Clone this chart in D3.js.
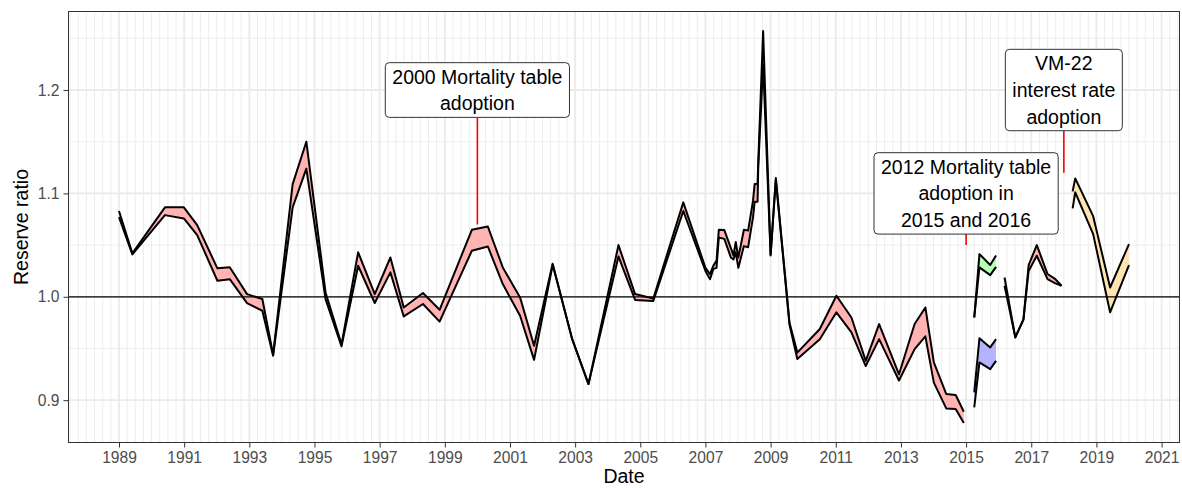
<!DOCTYPE html>
<html><head><meta charset="utf-8">
<script src="https://cdn.jsdelivr.net/npm/d3@7"></script>
<style>
body{margin:0;background:#fff}
svg{display:block}
text{font-family:"Liberation Sans",Arial,Helvetica,sans-serif}
</style>
</head><body>
<svg id="chart" width="1182" height="488"></svg>
<script>
// ---------- data (decimal year, lower bound, upper bound) ----------
const pink1Dates = [1989.00,1989.41,1990.41,1990.99,1991.40,1992.02,1992.40,1992.93,1993.40,1993.73,
  1994.33,1994.75,1995.34,1995.83,1996.34,1996.85,1997.33,1997.74,1998.33,1998.84,
  1999.83,2000.32,2000.78,2001.31,2001.74,2002.31,2002.91,2003.41,2004.33,2004.84,
  2005.40,2006.32,2007.00,2007.14,2007.24,2007.34,2007.41,2007.58,2007.78,2007.86,
  2007.93,2008.01,2008.18,2008.31,2008.46,2008.51,2008.60,2008.62,2008.77,2009.00,
  2009.16,2009.58,2009.82,2010.51,2011.02,2011.48,2011.92,2012.33,2012.94,2013.42,
  2013.75,2014.01,2014.39,2014.68,2014.93];
const pink1Low = [1.077,1.041,1.079,1.0758,1.0597,1.0155,1.017,0.9939,0.9865,0.943,
  1.0865,1.124,0.9978,0.952,1.030,0.994,1.0236,0.981,0.993,0.976,
  1.0445,1.0487,1.0123,0.9816,0.939,1.031,0.959,0.9156,1.039,0.997,
  0.996,1.083,1.025,1.017,1.0268,1.028,1.0574,1.056,1.038,1.036,
  1.043,1.028,1.049,1.048,1.0768,1.092,1.092,1.125,1.225,1.040,
  1.113,0.973,0.9398,0.959,0.985,0.9656,0.933,0.959,0.919,0.9494,
  0.9617,0.917,0.892,0.8914,0.878];
const pink1High = [1.083,1.042,1.0865,1.0865,1.0693,1.0275,1.0285,1.0026,0.9978,0.944,
  1.109,1.150,1.0042,0.954,1.043,1.0026,1.038,0.9897,1.0036,0.9874,
  1.0648,1.068,1.0284,0.9994,0.9526,1.032,0.959,0.9156,1.050,1.0026,
  0.9984,1.0913,1.028,1.022,1.030,1.035,1.0648,1.0645,1.047,1.040,
  1.053,1.038,1.0648,1.064,1.093,1.109,1.109,1.130,1.257,1.041,
  1.115,0.975,0.946,0.9688,1.001,0.980,0.938,0.9736,0.925,0.9736,
  0.9897,0.9365,0.906,0.905,0.8888];

const greenDates = [2015.25,2015.41,2015.74,2015.92];
const greenLow   = [0.980,1.0284,1.021,1.029];
const greenHigh  = [0.980,1.0413,1.0307,1.040];

const blueDates = [2015.25,2015.41,2015.74,2015.92];
const blueLow   = [0.893,0.9365,0.930,0.938];
const blueHigh  = [0.9075,0.960,0.951,0.959];

const pink2Dates = [2016.18,2016.51,2016.76,2016.92,2017.17,2017.50,2017.74,2017.93];
const pink2Low   = [1.0107,0.9607,0.978,1.025,1.0397,1.017,1.013,1.0107];
const pink2High  = [1.0187,0.9607,0.978,1.0307,1.050,1.022,1.017,1.0107];

const orangeDates = [2018.27,2018.35,2018.90,2019.42,2020.00];
const orangeLow   = [1.0855,1.101,1.0606,0.985,1.0307];
const orangeHigh  = [1.102,1.1145,1.078,1.009,1.051];

const xTicks = [1989,1991,1993,1995,1997,1999,2001,2003,2005,2007,2009,2011,2013,2015,2017,2019,2021];
const yTicks = [0.9,1.0,1.1,1.2];
const yMinor = [0.85,0.95,1.05,1.15,1.25];

const labelTexts  = [["2000 Mortality table","adoption"],
                     ["2012 Mortality table","adoption in","2015 and 2016"],
                     ["VM-22","interest rate","adoption"]];
const labelYears  = [2000, 2015, 2018];
const labelValues = [1.20, 1.10, 1.20];
const pointValues = [1.07, 1.05, 1.12];

// ---------- chart ----------
const svg = d3.select("#chart");
const P = {left:68.5, right:1179.5, top:11.5, bottom:442.5};

const series = [
  {d:pink1Dates, lo:pink1Low, hi:pink1High, fill:"#FFB3B3"},
  {d:greenDates, lo:greenLow, hi:greenHigh, fill:"#B3FFB3"},
  {d:blueDates, lo:blueLow, hi:blueHigh, fill:"#B3B3FF"},
  {d:pink2Dates, lo:pink2Low, hi:pink2High, fill:"#FFB3B3"},
  {d:orangeDates, lo:orangeLow, hi:orangeHigh, fill:"#FFE4B3"}
];

const allD = series.flatMap(s => s.d);
const allV = series.flatMap(s => s.lo.concat(s.hi));
const xe = d3.extent(allD), ye = d3.extent(allV);
const xp = (xe[1]-xe[0])*0.05, yp = (ye[1]-ye[0])*0.05;
const x = d3.scaleLinear().domain([xe[0]-xp, xe[1]+xp]).range([P.left, P.right]);
const y = d3.scaleLinear().domain([ye[0]-yp, ye[1]+yp]).range([P.bottom, P.top]);

// background
svg.append("rect").attr("x",P.left).attr("y",P.top)
  .attr("width",P.right-P.left).attr("height",P.bottom-P.top).attr("fill","#fff");

// grid
const g = svg.append("g");
const xMinor = d3.range(Math.ceil((x.domain()[0])*4)/4, x.domain()[1], 0.25)
  .filter(v => !xTicks.includes(v));
g.selectAll(".xm").data(xMinor).enter().append("line")
  .attr("x1",d=>x(d)).attr("x2",d=>x(d)).attr("y1",P.top).attr("y2",P.bottom)
  .attr("stroke","#EBEBEB").attr("stroke-width",0.9);
g.selectAll(".ym").data(yMinor.filter(v=>v>y.domain()[0]&&v<y.domain()[1])).enter().append("line")
  .attr("x1",P.left).attr("x2",P.right).attr("y1",d=>y(d)).attr("y2",d=>y(d))
  .attr("stroke","#EBEBEB").attr("stroke-width",0.9);
g.selectAll(".xM").data(xTicks).enter().append("line")
  .attr("x1",d=>x(d)).attr("x2",d=>x(d)).attr("y1",P.top).attr("y2",P.bottom)
  .attr("stroke","#EBEBEB").attr("stroke-width",1.8);
g.selectAll(".yM").data(yTicks).enter().append("line")
  .attr("x1",P.left).attr("x2",P.right).attr("y1",d=>y(d)).attr("y2",d=>y(d))
  .attr("stroke","#EBEBEB").attr("stroke-width",1.8);

// ribbons
const clip = svg.append("clipPath").attr("id","clp").append("rect")
  .attr("x",P.left).attr("y",P.top).attr("width",P.right-P.left).attr("height",P.bottom-P.top);
const rg = svg.append("g").attr("clip-path","url(#clp)");
series.forEach(s => {
  const pts = s.d.map((d,i)=>({d, lo:s.lo[i], hi:s.hi[i]}));
  const area = d3.area().x(p=>x(p.d)).y0(p=>y(p.lo)).y1(p=>y(p.hi));
  rg.append("path").attr("d",area(pts)).attr("fill",s.fill).attr("stroke","none");
  const lineLo = d3.line().x(p=>x(p.d)).y(p=>y(p.lo));
  const lineHi = d3.line().x(p=>x(p.d)).y(p=>y(p.hi));
  [lineLo, lineHi].forEach(l => rg.append("path").attr("d",l(pts))
    .attr("fill","none").attr("stroke","#000").attr("stroke-width",2)
    .attr("stroke-linejoin","round").attr("stroke-linecap","butt"));
});

// reference line at 1
rg.append("line").attr("x1",P.left).attr("x2",P.right)
  .attr("y1",y(1)).attr("y2",y(1)).attr("stroke","#000").attr("stroke-width",1.2);

// annotations
const lineH = 26.7, fs = 19.5;
labelTexts.forEach((lines,i) => {
  const cx = x(labelYears[i]), cy = y(labelValues[i]);
  const h = (lines.length-1)*lineH + 28;
  svg.append("line").attr("x1",cx).attr("x2",cx)
    .attr("y1",cy + h/2).attr("y2",y(pointValues[i]))
    .attr("stroke","#FF0000").attr("stroke-width",1.6);
  const grp = svg.append("g");
  const box = grp.append("rect");
  const texts = lines.map((t,k) => grp.append("text")
    .attr("x",cx).attr("y",cy - (lines.length-1)*lineH/2 + k*lineH)
    .attr("dy","0.36em").attr("text-anchor","middle")
    .attr("font-size",fs).attr("fill","#000").text(t));
  const wmax = d3.max(texts, t => t.node().getComputedTextLength());
  const w = wmax + 14;
  box.attr("x",cx-w/2).attr("y",cy-h/2).attr("width",w).attr("height",h)
    .attr("rx",4).attr("ry",4).attr("fill","#fff")
    .attr("stroke","#333").attr("stroke-width",1);
});

// panel border
svg.append("rect").attr("x",P.left).attr("y",P.top)
  .attr("width",P.right-P.left).attr("height",P.bottom-P.top)
  .attr("fill","none").attr("stroke","#333").attr("stroke-width",1);

// axes
const xAxis = svg.append("g").attr("transform",`translate(0,${P.bottom})`)
  .call(d3.axisBottom(x).tickValues(xTicks).tickFormat(d3.format("d")).tickSize(5).tickPadding(4));
const yAxis = svg.append("g").attr("transform",`translate(${P.left},0)`)
  .call(d3.axisLeft(y).tickValues(yTicks).tickFormat(d3.format(".1f")).tickSize(5).tickPadding(4));
[xAxis,yAxis].forEach(a => {
  a.select(".domain").remove();
  a.selectAll(".tick line").attr("stroke","#333").attr("stroke-width",1);
  a.selectAll(".tick text").attr("fill","#4D4D4D").attr("font-size",15.6)
    .attr("font-family",'"Liberation Sans",Arial,sans-serif');
});

// titles
svg.append("text").attr("x",(P.left+P.right)/2).attr("y",483)
  .attr("text-anchor","middle").attr("font-size",19.5).attr("fill","#000").text("Date");
svg.append("text").attr("transform",`translate(28,${(P.top+P.bottom)/2}) rotate(-90)`)
  .attr("text-anchor","middle").attr("font-size",19.5).attr("fill","#000").text("Reserve ratio");
</script>
</body></html>
